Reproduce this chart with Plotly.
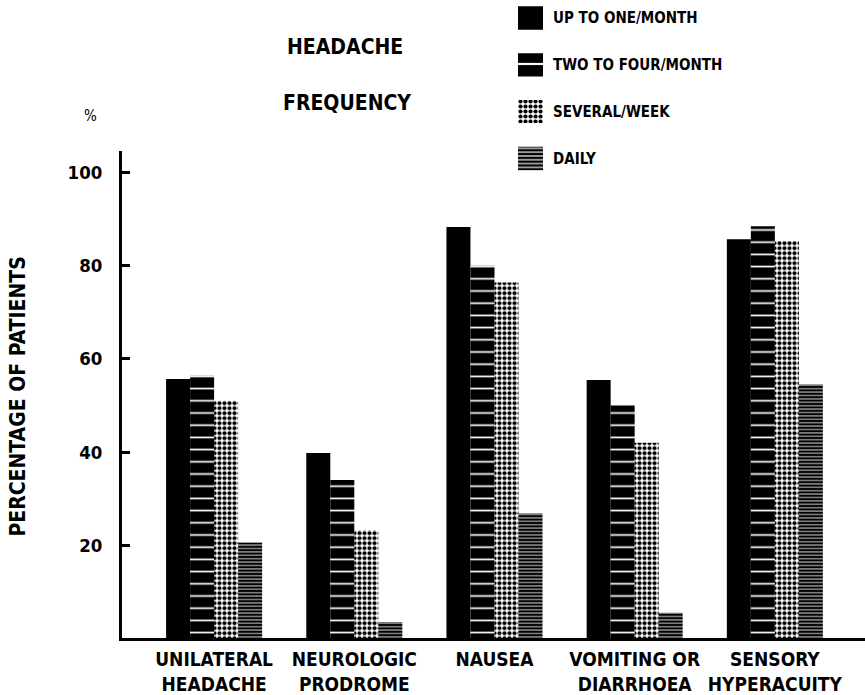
import plotly.graph_objects as go

# ---------------- data ----------------
categories = ["UNILATERAL<br>HEADACHE", "NEUROLOGIC<br>PRODROME", "NAUSEA",
              "VOMITING OR<br>DIARRHOEA", "SENSORY<br>HYPERACUITY"]
series_names = ["UP TO ONE/MONTH", "TWO TO FOUR/MONTH", "SEVERAL/WEEK", "DAILY"]
up_to_one_month = [55.7, 39.8, 88.3, 55.5, 85.7]
two_to_four_month = [56.4, 34.0, 80.0, 50.0, 88.5]
several_week = [51.0, 23.2, 76.4, 42.0, 85.3]
daily = [20.6, 3.5, 26.8, 5.5, 54.5]
y_tick_values = [20, 40, 60, 80, 100]
y_tick_labels = ["20", "40", "60", "80", "100"]

values = [up_to_one_month, two_to_four_month, several_week, daily]

# ---------------- styles ----------------
W, H = 865, 695
FONT = "DejaVu Sans Condensed, DejaVu Sans, sans-serif"
patterns = [
    dict(shape=""),
    dict(shape="-", fgcolor="white", bgcolor="black", size=12.2, solidity=0.14,
         fillmode="replace"),
    dict(shape=".", fgcolor="black", bgcolor="white", size=5, solidity=0.55,
         fillmode="replace"),
    dict(shape="-", fgcolor="black", bgcolor="white", size=3.4, solidity=0.76,
         fillmode="replace"),
]
legend_patterns = [
    dict(shape=""),
    dict(shape="-", fgcolor="white", bgcolor="black", size=24, solidity=0.09,
         fillmode="replace"),
    dict(shape=".", fgcolor="black", bgcolor="white", size=5, solidity=0.55,
         fillmode="replace"),
    dict(shape="-", fgcolor="black", bgcolor="white", size=3.8, solidity=0.7,
         fillmode="replace"),
]
base_colors = ["black", "black", "white", "white"]

fig = go.Figure()
for name, vals, col, pat in zip(series_names, values, base_colors, patterns):
    fig.add_trace(go.Bar(
        x=categories, y=vals, name=name, showlegend=False,
        marker=dict(color=col, line=dict(width=0), pattern=pat),
        xaxis="x", yaxis="y",
    ))

# legend drawn as a small auxiliary bar chart (one swatch per series)
for name, col, pat in zip(series_names, base_colors, legend_patterns):
    fig.add_trace(go.Bar(
        y=[name], x=[1], orientation="h", showlegend=False, width=0.5,
        offsetgroup="legend", xaxis="x2", yaxis="y2",
        marker=dict(color=col, line=dict(width=0), pattern=pat),
    ))

L, T, B = 122, 152, 644
NUMFONT = dict(family=FONT, size=18.5, color="black", weight="bold")
fig.update_layout(
    width=W, height=H, margin=dict(l=0, r=0, t=0, b=0),
    paper_bgcolor="white", plot_bgcolor="white",
    barmode="group", bargap=0.315, bargroupgap=0,
    font=dict(family=FONT, color="black"),
    xaxis=dict(domain=[L / W, 1], range=[-0.657, 4.643], showline=True,
               linecolor="black", linewidth=3, ticks="", showgrid=False,
               zeroline=False, anchor="y",
               tickfont=dict(family=FONT, size=19, color="black", weight="bold"),
               ticklabelstandoff=2),
    yaxis=dict(domain=[(H - B) / H, (H - T) / H], range=[0, 104.7], showline=True,
               linecolor="black", linewidth=3, ticks="inside", ticklen=8,
               tickwidth=3, tickcolor="black", tickvals=y_tick_values,
               ticktext=y_tick_labels, showgrid=False, zeroline=False, anchor="x",
               tickfont=NUMFONT, ticklabelstandoff=13),
    xaxis2=dict(domain=[518 / W, 543 / W], range=[0, 1], visible=False, anchor="y2"),
    yaxis2=dict(domain=[(H - 174) / H, (H - 4) / H], range=[3.3, -0.3],
                type="category", side="right", anchor="x2", showline=False,
                showgrid=False, zeroline=False, ticks="", ticklabelstandoff=9,
                tickfont=dict(family=FONT, size=15, color="black", weight="bold")),
    annotations=[
        dict(text="HEADACHE", x=345 / W, y=(H - 47) / H, xref="paper", yref="paper",
             xanchor="center", yanchor="middle", showarrow=False,
             font=dict(family=FONT, size=21, weight="bold")),
        dict(text="FREQUENCY", x=347 / W, y=(H - 104) / H, xref="paper", yref="paper",
             xanchor="center", yanchor="middle", showarrow=False,
             font=dict(family=FONT, size=21, weight="bold")),
        dict(text="%", x=90 / W, y=(H - 117) / H, xref="paper", yref="paper",
             xanchor="center", yanchor="middle", showarrow=False,
             font=dict(family=FONT, size=15)),
        dict(text="PERCENTAGE OF PATIENTS", x=18 / W, y=(H - 400) / H,
             xref="paper", yref="paper", xanchor="center", yanchor="middle",
             textangle=-90, showarrow=False,
             font=dict(family=FONT, size=21, weight="bold")),
    ],
)

fig.write_html("out.html", config={"displayModeBar": False},
               post_script="document.body.style.margin='0';")
